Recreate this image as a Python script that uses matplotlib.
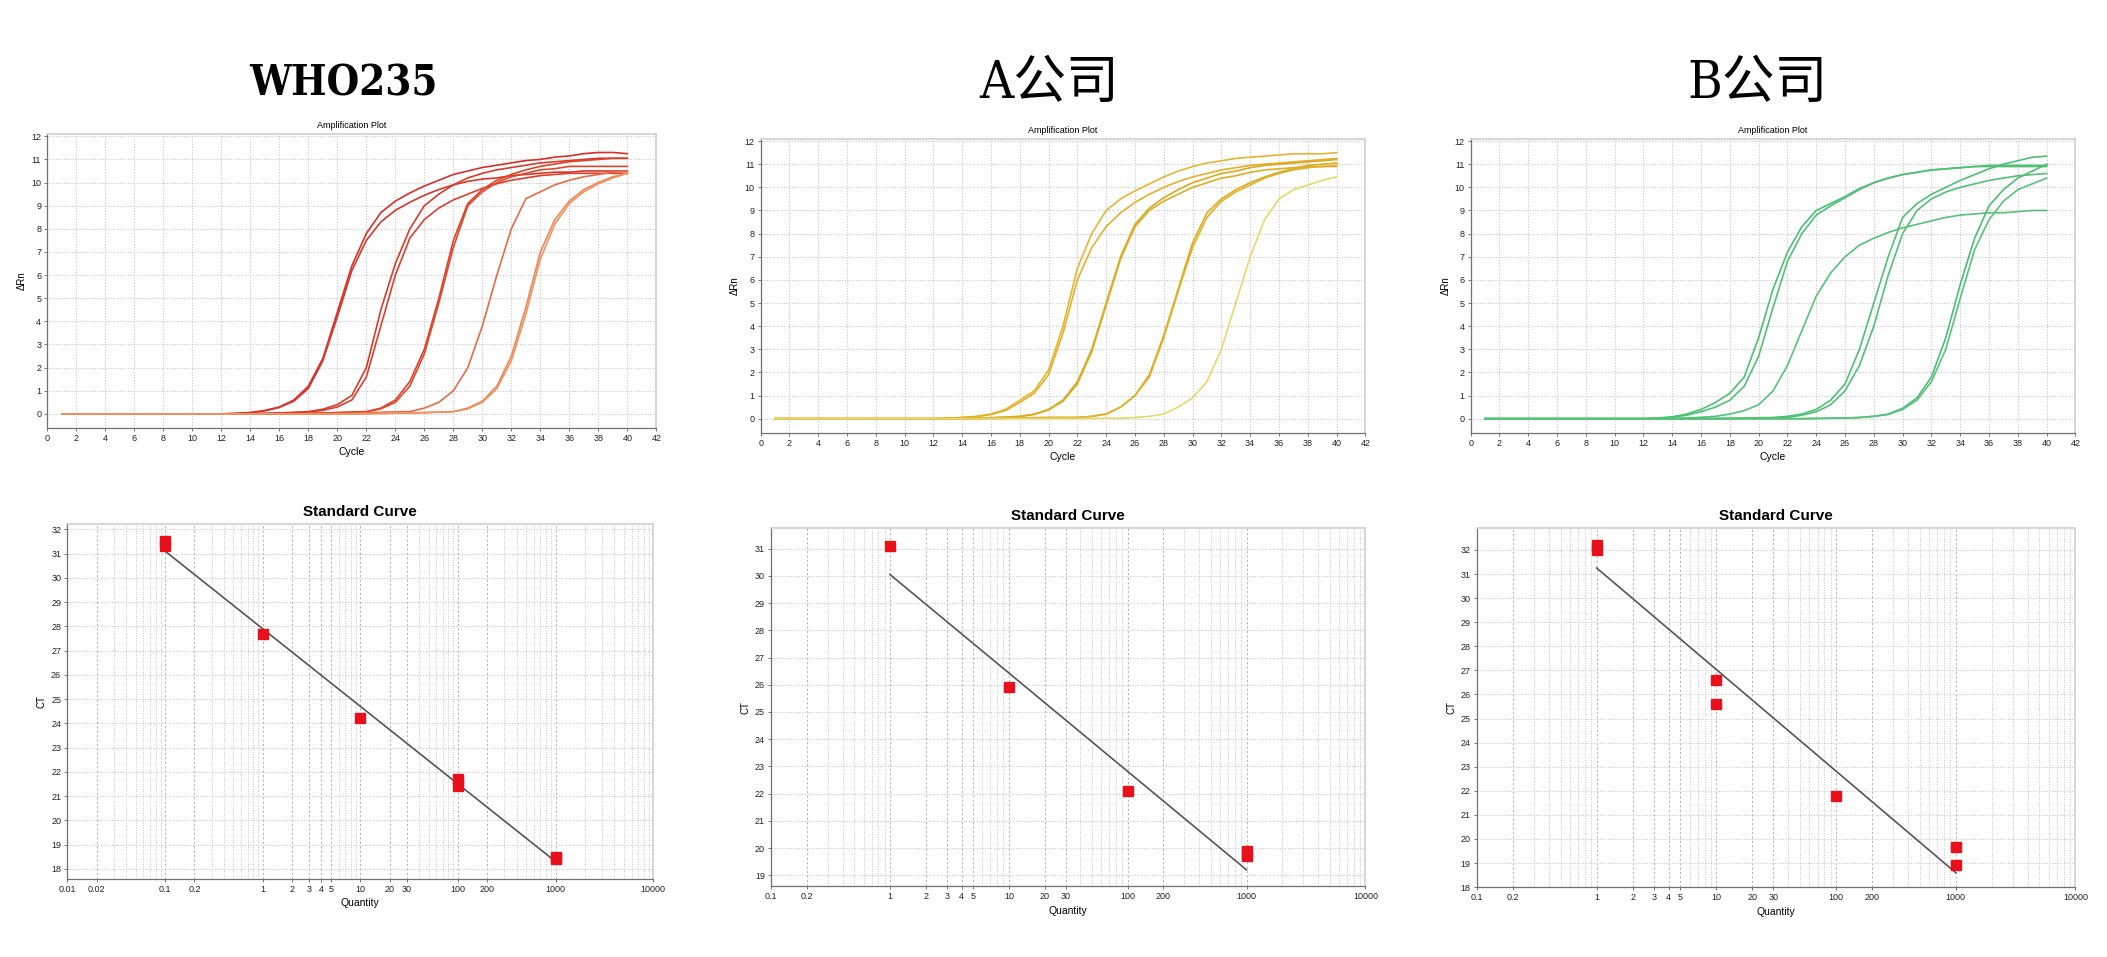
import numpy as np
import matplotlib
matplotlib.use("Agg")
import matplotlib.pyplot as plt
from matplotlib.ticker import FixedLocator, FixedFormatter, NullFormatter

plt.rcParams["font.family"] = ["Liberation Sans", "DejaVu Sans"]

# ---------------- data ----------------
cycles = list(range(1, 41))

# baseline cycles 1..12 are flat at 0 for every well
base = [0, 0, 0, 0, 0, 0, 0, 0, 0, 0, 0, 0]

# WHO235 amplification curves (dRn for cycles 13..40)
who_curves = [
    [0.02, 0.06, 0.15, 0.3, 0.6, 1.2, 2.4, 4.4, 6.4, 7.8, 8.7, 9.2, 9.55, 9.85, 10.1, 10.35,
     10.5, 10.65, 10.75, 10.85, 10.95, 11.0, 11.1, 11.15, 11.25, 11.3, 11.3, 11.25],
    [0.02, 0.05, 0.13, 0.28, 0.55, 1.1, 2.3, 4.2, 6.2, 7.5, 8.3, 8.8, 9.15, 9.45, 9.7, 9.9,
     10.05, 10.15, 10.2, 10.3, 10.35, 10.4, 10.45, 10.45, 10.5, 10.5, 10.5, 10.5],
    [0.0, 0.01, 0.02, 0.04, 0.07, 0.1, 0.2, 0.4, 0.8, 2.0, 4.5, 6.5, 8.0, 9.0, 9.5, 9.9,
     10.2, 10.4, 10.55, 10.65, 10.75, 10.85, 10.9, 10.95, 11.0, 11.05, 11.05, 11.05],
    [0.0, 0.01, 0.02, 0.03, 0.05, 0.08, 0.15, 0.3, 0.6, 1.6, 3.8, 6.0, 7.6, 8.4, 8.9, 9.25,
     9.5, 9.75, 9.95, 10.1, 10.2, 10.3, 10.35, 10.4, 10.4, 10.4, 10.4, 10.4],
    [0.0, 0.0, 0.0, 0.01, 0.02, 0.03, 0.04, 0.06, 0.08, 0.1, 0.25, 0.6, 1.4, 2.8, 5.0, 7.5,
     9.1, 9.7, 10.1, 10.35, 10.55, 10.7, 10.8, 10.9, 10.95, 11.0, 11.05, 11.05],
    [0.0, 0.0, 0.0, 0.0, 0.01, 0.02, 0.03, 0.05, 0.07, 0.09, 0.22, 0.5, 1.2, 2.6, 4.8, 7.2,
     9.0, 9.6, 10.0, 10.25, 10.4, 10.55, 10.6, 10.7, 10.7, 10.7, 10.7, 10.7],
    [0.0, 0.0, 0.0, 0.0, 0.0, 0.0, 0.01, 0.02, 0.03, 0.05, 0.07, 0.09, 0.1, 0.25, 0.5, 1.0,
     2.0, 3.8, 6.0, 8.0, 9.3, 9.6, 9.9, 10.1, 10.25, 10.35, 10.45, 10.5],
    [0.0, 0.0, 0.0, 0.0, 0.0, 0.0, 0.0, 0.0, 0.0, 0.01, 0.02, 0.03, 0.04, 0.06, 0.08, 0.1,
     0.25, 0.55, 1.2, 2.5, 4.6, 7.0, 8.4, 9.2, 9.7, 10.0, 10.25, 10.4],
    [0.0, 0.0, 0.0, 0.0, 0.0, 0.0, 0.0, 0.0, 0.0, 0.01, 0.02, 0.03, 0.04, 0.05, 0.07, 0.09,
     0.22, 0.5, 1.1, 2.3, 4.3, 6.7, 8.2, 9.1, 9.6, 9.95, 10.2, 10.4],
]
who_colors = ["#d42f28", "#d6362c", "#d93b2a", "#d9402e", "#dd4229", "#e0472d",
              "#e66a45", "#ec8558", "#ee9462"]

# A company amplification curves (cycles 13..40)
a_curves = [
    [0.02, 0.05, 0.1, 0.2, 0.4, 0.8, 1.2, 2.1, 4.0, 6.5, 8.0, 9.0, 9.5, 9.85, 10.15, 10.45,
     10.7, 10.9, 11.05, 11.15, 11.25, 11.3, 11.35, 11.4, 11.45, 11.45, 11.45, 11.5],
    [0.02, 0.05, 0.09, 0.18, 0.35, 0.7, 1.1, 1.9, 3.7, 6.0, 7.4, 8.3, 8.9, 9.35, 9.7, 10.0,
     10.25, 10.45, 10.6, 10.75, 10.85, 10.95, 11.0, 11.05, 11.1, 11.15, 11.2, 11.25],
    [0.0, 0.01, 0.02, 0.04, 0.07, 0.1, 0.2, 0.4, 0.8, 1.6, 3.0, 5.0, 7.0, 8.4, 9.1, 9.55,
     9.9, 10.2, 10.4, 10.6, 10.7, 10.85, 10.95, 11.0, 11.05, 11.1, 11.15, 11.2],
    [0.0, 0.01, 0.02, 0.04, 0.06, 0.09, 0.18, 0.38, 0.75, 1.5, 2.9, 4.9, 6.9, 8.3, 9.0, 9.4,
     9.7, 10.0, 10.2, 10.4, 10.5, 10.65, 10.75, 10.8, 10.85, 10.9, 10.9, 10.9],
    [0.0, 0.0, 0.0, 0.01, 0.02, 0.03, 0.04, 0.05, 0.05, 0.05, 0.1, 0.2, 0.5, 1.0, 1.9, 3.6,
     5.6, 7.6, 8.9, 9.5, 9.9, 10.2, 10.45, 10.65, 10.8, 10.95, 11.0, 11.05],
    [0.0, 0.0, 0.0, 0.01, 0.02, 0.03, 0.04, 0.05, 0.05, 0.05, 0.1, 0.2, 0.5, 1.0, 1.8, 3.5,
     5.5, 7.4, 8.7, 9.4, 9.8, 10.1, 10.4, 10.6, 10.75, 10.85, 10.9, 10.95],
    [0.0, 0.0, 0.0, 0.0, 0.0, 0.0, 0.0, 0.0, 0.0, 0.0, 0.01, 0.02, 0.03, 0.05, 0.1, 0.2,
     0.5, 0.9, 1.6, 3.0, 5.0, 7.0, 8.6, 9.5, 9.9, 10.1, 10.3, 10.45],
]
a_colors = ["#e5b431", "#e3b02a", "#d9a91f", "#dcae25", "#dcab20", "#e0b22b", "#e8d86a"]

# B company amplification curves (cycles 13..40)
b_curves = [
    [0.03, 0.08, 0.2, 0.4, 0.7, 1.1, 1.8, 3.5, 5.6, 7.2, 8.3, 9.0, 9.3, 9.6, 9.95, 10.2,
     10.4, 10.55, 10.65, 10.75, 10.8, 10.85, 10.9, 10.9, 10.9, 10.9, 10.9, 10.9],
    [0.02, 0.06, 0.15, 0.3, 0.5, 0.8, 1.4, 2.7, 4.8, 6.8, 8.0, 8.8, 9.2, 9.55, 9.9, 10.2,
     10.4, 10.55, 10.65, 10.75, 10.8, 10.85, 10.9, 10.95, 10.95, 10.95, 10.95, 10.95],
    [0.0, 0.01, 0.03, 0.06, 0.1, 0.2, 0.35, 0.6, 1.2, 2.3, 3.8, 5.3, 6.3, 7.0, 7.5, 7.8,
     8.05, 8.25, 8.4, 8.55, 8.7, 8.8, 8.85, 8.9, 8.9, 8.95, 9.0, 9.0],
    [0.0, 0.0, 0.0, 0.0, 0.01, 0.02, 0.03, 0.04, 0.05, 0.1, 0.2, 0.4, 0.8, 1.5, 3.0, 5.0,
     7.0, 8.7, 9.3, 9.7, 10.0, 10.3, 10.55, 10.8, 11.0, 11.15, 11.3, 11.35],
    [0.0, 0.0, 0.0, 0.0, 0.0, 0.01, 0.02, 0.03, 0.04, 0.05, 0.15, 0.3, 0.6, 1.2, 2.3, 4.0,
     6.2, 8.0, 9.0, 9.5, 9.8, 10.0, 10.15, 10.3, 10.4, 10.5, 10.55, 10.6],
    [0.0, 0.0, 0.0, 0.0, 0.0, 0.0, 0.0, 0.0, 0.0, 0.0, 0.0, 0.01, 0.02, 0.03, 0.05, 0.1,
     0.2, 0.45, 0.9, 1.8, 3.5, 5.8, 7.8, 9.2, 9.9, 10.4, 10.7, 11.0],
    [0.0, 0.0, 0.0, 0.0, 0.0, 0.0, 0.0, 0.0, 0.0, 0.0, 0.0, 0.01, 0.02, 0.03, 0.05, 0.1,
     0.18, 0.4, 0.8, 1.6, 3.0, 5.2, 7.3, 8.6, 9.4, 9.9, 10.15, 10.4],
]
b_colors = ["#4cbf72", "#50c076", "#55c27a", "#4fbf74", "#52c078", "#4dbd72", "#57c37b"]

# standard curves: quantity and Ct of each well, plus the fitted line ends
who_qty = [0.1, 0.1, 1, 10, 100, 100, 1000, 1000]
who_ct = [31.3, 31.5, 27.7, 24.2, 21.4, 21.7, 18.4, 18.5]
who_fit_qty = [0.1, 1000]
who_fit_ct = [31.1, 18.3]

a_qty = [1, 10, 100, 1000, 1000]
a_ct = [31.1, 25.9, 22.1, 19.7, 19.9]
a_fit_qty = [1, 1000]
a_fit_ct = [30.05, 19.2]

b_qty = [1, 1, 10, 10, 100, 1000, 1000]
b_ct = [32.0, 32.2, 26.6, 25.6, 21.8, 19.65, 18.9]
b_fit_qty = [1, 1000]
b_fit_ct = [31.25, 18.6]

panel_titles = ["WHO235", "A公司", "B公司"]

GRID = "#c8c8c8"


def style_frame(ax):
    for side in ["top", "right"]:
        ax.spines[side].set_color("#d0d0d0")
        ax.spines[side].set_linewidth(1.2)
    for side in ["left", "bottom"]:
        ax.spines[side].set_color("#707070")
        ax.spines[side].set_linewidth(0.9)
    ax.tick_params(which="major", length=2.5, width=0.6, color="#606060",
                   labelsize=6.5, pad=2, labelcolor="#222222")
    ax.tick_params(which="minor", length=0)


def draw_amp(ax, curves, colors):
    for vals, col in zip(curves, colors):
        ax.plot(cycles, base + vals, color=col, lw=1.2)
    ax.set_xlim(0, 42)
    ax.set_ylim(-0.6, 12.1)
    ax.set_xticks(range(0, 43, 2))
    ax.set_yticks(range(0, 13))
    ax.grid(True, color=GRID, ls=(0, (1, 1.5)), lw=0.8)
    style_frame(ax)
    ax.set_title("Amplification Plot", fontsize=6.5, pad=4)
    ax.set_xlabel("Cycle", fontsize=7.5, labelpad=3)
    ax.set_ylabel("ΔRn", fontsize=7, labelpad=3)


def draw_std(ax, qty, ct, fit_q, fit_c, xmin, ylim, yticks, xlabels):
    ax.set_xscale("log")
    ax.plot(fit_q, fit_c, color="#555555", lw=1.2, zorder=3)
    ax.plot(qty, ct, ls="none", marker="s", ms=6.5, color="#e8101a",
            mec="#e8101a", zorder=4)
    ax.set_xlim(xmin, 10000)
    ax.set_ylim(*ylim)
    ax.xaxis.set_major_locator(FixedLocator(xlabels))
    ax.xaxis.set_major_formatter(FixedFormatter([("%g" % v) for v in xlabels]))
    minors = [m * 10.0 ** e for e in range(-2, 4) for m in range(2, 10)]
    ax.xaxis.set_minor_locator(FixedLocator(minors))
    ax.xaxis.set_minor_formatter(NullFormatter())
    ax.set_yticks(yticks)
    ax.grid(True, which="major", axis="y", color=GRID, ls=(0, (1, 1.5)), lw=0.8)
    ax.grid(True, which="both", axis="x", color=GRID, ls=(0, (1, 1.5)), lw=0.7)
    ax.grid(True, which="major", axis="x", color="#b8b8b8", ls=(0, (2, 2)), lw=0.8)
    style_frame(ax)
    ax.set_title("Standard Curve", fontsize=11, fontweight="bold", pad=6)
    ax.set_xlabel("Quantity", fontsize=7.5, labelpad=3)
    ax.set_ylabel("CT", fontsize=7, labelpad=3)


fig = plt.figure(figsize=(21.07, 9.57), dpi=100)

amp_rects = [[0.0225, 0.553, 0.289, 0.307],
             [0.361, 0.548, 0.287, 0.307],
             [0.698, 0.548, 0.287, 0.307]]
std_rects = [[0.032, 0.082, 0.278, 0.370],
             [0.366, 0.074, 0.282, 0.374],
             [0.701, 0.073, 0.284, 0.375]]

draw_amp(fig.add_axes(amp_rects[0]), who_curves, who_colors)
draw_amp(fig.add_axes(amp_rects[1]), a_curves, a_colors)
draw_amp(fig.add_axes(amp_rects[2]), b_curves, b_colors)

draw_std(fig.add_axes(std_rects[0]), who_qty, who_ct, who_fit_qty, who_fit_ct,
         0.01, (17.6, 32.2), range(18, 33),
         [0.01, 0.02, 0.1, 0.2, 1, 2, 3, 4, 5, 10, 20, 30, 100, 200, 1000, 10000])
draw_std(fig.add_axes(std_rects[1]), a_qty, a_ct, a_fit_qty, a_fit_ct,
         0.1, (18.6, 31.75), range(19, 32),
         [0.1, 0.2, 1, 2, 3, 4, 5, 10, 20, 30, 100, 200, 1000, 10000])
draw_std(fig.add_axes(std_rects[2]), b_qty, b_ct, b_fit_qty, b_fit_ct,
         0.1, (18.0, 32.9), range(18, 33),
         [0.1, 0.2, 1, 2, 3, 4, 5, 10, 20, 30, 100, 200, 1000, 10000])

title_x = [0.163, 0.498, 0.834]
title_size = [30, 38, 38]
title_weight = ["bold", "normal", "normal"]
for tx, fs, fw, label in zip(title_x, title_size, title_weight, panel_titles):
    fig.text(tx, 0.913, label, ha="center", va="center", fontsize=fs,
             family=["DejaVu Serif", "Noto Sans CJK SC"], fontstretch="condensed",
             fontweight=fw)

fig.savefig("out.png", dpi=100, facecolor="white")
